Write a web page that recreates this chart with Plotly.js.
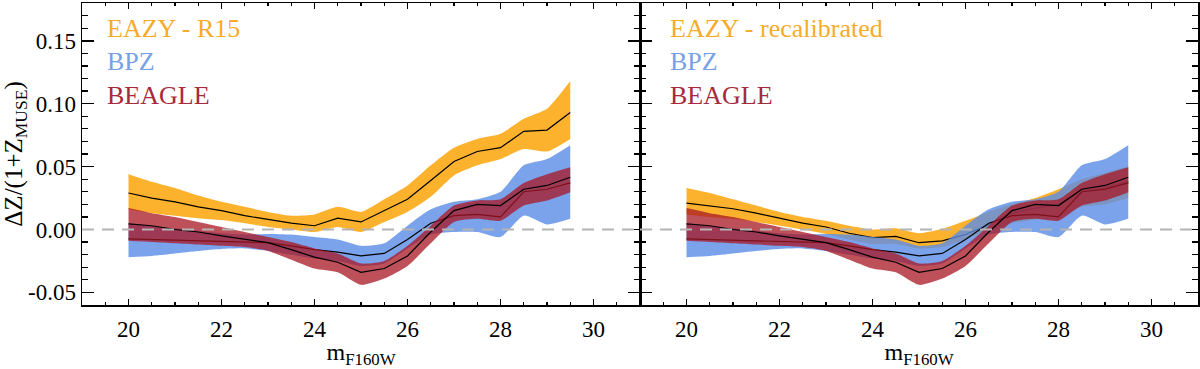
<!DOCTYPE html>
<html>
<head>
<meta charset="utf-8">
<script src="https://cdn.plot.ly/plotly-3.0.1.min.js"></script>
<style>
  html, body { margin: 0; padding: 0; background: #fff; }
  #chart { width: 1200px; height: 369px; }
</style>
</head>
<body>
<div id="chart"></div>
<script>
// magnitude grid (m_F160W)
const mag = [20, 20.5, 21, 21.5, 22, 22.5, 23, 23.5, 24, 24.5, 25, 25.5, 26, 26.5, 27, 27.5, 28, 28.5, 29, 29.5];

// EAZY - R15 (left panel)
const eazyHi  = [0.044, 0.038, 0.033, 0.027, 0.022, 0.018, 0.014, 0.011, 0.012, 0.018, 0.014, 0.024, 0.035, 0.051, 0.065, 0.072, 0.076, 0.088, 0.096, 0.118];
const eazyLo  = [0.016, 0.013, 0.011, 0.009, 0.0075, 0.005, 0.002, 0.0, -0.002, 0.002, -0.002, 0.006, 0.014, 0.026, 0.043, 0.051, 0.056, 0.064, 0.062, 0.072];
const eazyMid = [0.029, 0.025, 0.022, 0.018, 0.015, 0.011, 0.008, 0.005, 0.003, 0.009, 0.006, 0.015, 0.024, 0.039, 0.054, 0.062, 0.065, 0.078, 0.079, 0.093];

// EAZY - recalibrated (right panel)
const recalHi  = [0.033, 0.029, 0.024, 0.019, 0.014, 0.010, 0.007, 0.003, 0.0, 0.001, -0.003, 0.0005, 0.007, 0.014, 0.020, 0.025, 0.032, 0.040, 0.045, 0.050];
const recalLo  = [0.012, 0.010, 0.0085, 0.006, 0.003, 0.0, -0.0035, -0.008, -0.0115, -0.0115, -0.015, -0.014, -0.008, 0.0, 0.005, 0.008, 0.010, 0.018, 0.020, 0.025];
const recalMid = [0.021, 0.019, 0.0165, 0.013, 0.009, 0.005, 0.002, -0.003, -0.0065, -0.0055, -0.0105, -0.009, -0.004, 0.004, 0.013, 0.017, 0.020, 0.030, 0.033, 0.038];

// BPZ (both panels)
const bpzHi  = [0.005, 0.003, 0.001, -0.001, -0.003, -0.004, -0.0035, -0.004, -0.006, -0.008, -0.013, -0.011, 0.003, 0.016, 0.022, 0.024, 0.030, 0.051, 0.056, 0.067];
const bpzLo  = [-0.022, -0.021, -0.019, -0.017, -0.0155, -0.015, -0.017, -0.020, -0.023, -0.025, -0.029, -0.027, -0.015, -0.004, -0.002, -0.002, -0.006, 0.011, 0.004, 0.0085];
const bpzMid = [-0.0075, -0.008, -0.0087, -0.0095, -0.010, -0.010, -0.0105, -0.013, -0.016, -0.018, -0.021, -0.019, -0.008, 0.005, 0.011, 0.012, 0.010, 0.030, 0.032, 0.037];

// BEAGLE (both panels)
const beagleHi  = [0.017, 0.013, 0.010, 0.006, 0.002, -0.002, -0.006, -0.010, -0.015, -0.019, -0.027, -0.025, -0.013, 0.003, 0.019, 0.023, 0.024, 0.037, 0.044, 0.0495];
const beagleLo  = [-0.009, -0.010, -0.011, -0.012, -0.013, -0.014, -0.017, -0.024, -0.031, -0.034, -0.044, -0.039, -0.029, -0.011, 0.006, 0.0085, 0.007, 0.019, 0.023, 0.0296];
const beagleMid = [0.0045, 0.003, 0.0, -0.002, -0.005, -0.008, -0.0105, -0.016, -0.022, -0.026, -0.034, -0.031, -0.021, -0.002, 0.015, 0.020, 0.019, 0.032, 0.035, 0.0415];

const yTickVals = [-0.05, 0.0, 0.05, 0.10, 0.15];
const yTickText = ['-0.05', '0.00', '0.05', '0.10', '0.15'];
const xTickVals = [20, 22, 24, 26, 28, 30];

const leftLabels  = ['EAZY - R15', 'BPZ', 'BEAGLE'];
const rightLabels = ['EAZY - recalibrated', 'BPZ', 'BEAGLE'];

const colors = {
  eazy: '#fdb22e',
  bpz: 'rgba(90,140,230,0.8)',
  beagle: 'rgba(168,21,35,0.75)',
  eazyText: '#f7ab2a',
  bpzText: '#79a0e6',
  beagleText: '#a62a3c'
};

const FONT = 'Liberation Serif, Times New Roman, serif';

// band = lower edge + filled upper edge + black central line
function band(lo, hi, mid, fill, xa, ya) {
  return [
    { x: mag, y: lo, xaxis: xa, yaxis: ya, mode: 'lines', line: { width: 0, shape: 'spline', smoothing: 0.6 }, hoverinfo: 'skip' },
    { x: mag, y: hi, xaxis: xa, yaxis: ya, mode: 'lines', fill: 'tonexty', fillcolor: fill, line: { width: 0, shape: 'spline', smoothing: 0.6 }, hoverinfo: 'skip' },
    { x: mag, y: mid, xaxis: xa, yaxis: ya, mode: 'lines', line: { color: '#000', width: 1.2 } }
  ];
}

const data = [
  ...band(eazyLo, eazyHi, eazyMid, colors.eazy, 'x', 'y'),
  ...band(bpzLo, bpzHi, bpzMid, colors.bpz, 'x', 'y'),
  ...band(beagleLo, beagleHi, beagleMid, colors.beagle, 'x', 'y'),
  ...band(recalLo, recalHi, recalMid, colors.eazy, 'x2', 'y2'),
  ...band(bpzLo, bpzHi, bpzMid, colors.bpz, 'x2', 'y2'),
  ...band(beagleLo, beagleHi, beagleMid, colors.beagle, 'x2', 'y2')
];

const xAxisBase = {
  range: [19, 31],
  tickvals: xTickVals,
  ticks: 'inside', ticklen: 6, tickwidth: 1.5, tickcolor: '#000',
  minor: { dtick: 0.5, ticks: 'inside', ticklen: 3, tickwidth: 1.2, tickcolor: '#000' },
  showline: true, linecolor: '#000', linewidth: 1.5, mirror: 'ticks',
  showgrid: false, zeroline: false,
  tickfont: { family: FONT, size: 23, color: '#000' },
  ticklabelstandoff: 3,
  title: { text: 'm<sub>F160W</sub>', font: { family: FONT, size: 24, color: '#000' }, standoff: 9 }
};

const yAxisBase = {
  range: [-0.06, 0.18],
  tickvals: yTickVals, ticktext: yTickText,
  ticks: 'inside', ticklen: 12, tickwidth: 1.5, tickcolor: '#000',
  minor: { dtick: 0.01, ticks: 'inside', ticklen: 6, tickwidth: 1.2, tickcolor: '#000' },
  showline: true, linecolor: '#000', linewidth: 1.5, mirror: 'ticks',
  showgrid: false, zeroline: false,
  tickfont: { family: FONT, size: 23, color: '#000' }
};

const labelY = [0.917, 0.805, 0.693];
const leftColors = [colors.eazyText, colors.bpzText, colors.beagleText];

const annotations = [];
leftLabels.forEach((t, i) => annotations.push({
  text: t, xref: 'paper', yref: 'paper', x: 0.0206, y: labelY[i],
  xanchor: 'left', yanchor: 'middle', showarrow: false,
  font: { family: FONT, size: 26, color: leftColors[i] }
}));
rightLabels.forEach((t, i) => annotations.push({
  text: t, xref: 'paper', yref: 'paper', x: 0.525, y: labelY[i],
  xanchor: 'left', yanchor: 'middle', showarrow: false,
  font: { family: FONT, size: 26, color: leftColors[i] }
}));

const zeroLine = (xr, yr) => ({
  type: 'line', xref: xr + ' domain', yref: yr, x0: 0, x1: 1, y0: 0, y1: 0,
  line: { color: '#b4b4b4', width: 2, dash: '12px,8px' }, layer: 'above'
});

const layout = {
  width: 1200, height: 369,
  margin: { l: 82, r: 2, t: 3, b: 63.5 },
  paper_bgcolor: '#fff', plot_bgcolor: '#fff',
  showlegend: false,
  xaxis: { ...xAxisBase, domain: [0, 0.5], anchor: 'y' },
  xaxis2: { ...xAxisBase, domain: [0.5, 1], anchor: 'y2' },
  yaxis: {
    ...yAxisBase, anchor: 'x',
    title: { text: 'ΔZ/(1+Z<sub>MUSE</sub>)', font: { family: FONT, size: 25, color: '#000' }, standoff: 2 }
  },
  yaxis2: { ...yAxisBase, anchor: 'x2', matches: 'y', showticklabels: false },
  shapes: [zeroLine('x', 'y'), zeroLine('x2', 'y2')],
  annotations: annotations
};

Plotly.newPlot('chart', data, layout, { staticPlot: true });
</script>
</body>
</html>
